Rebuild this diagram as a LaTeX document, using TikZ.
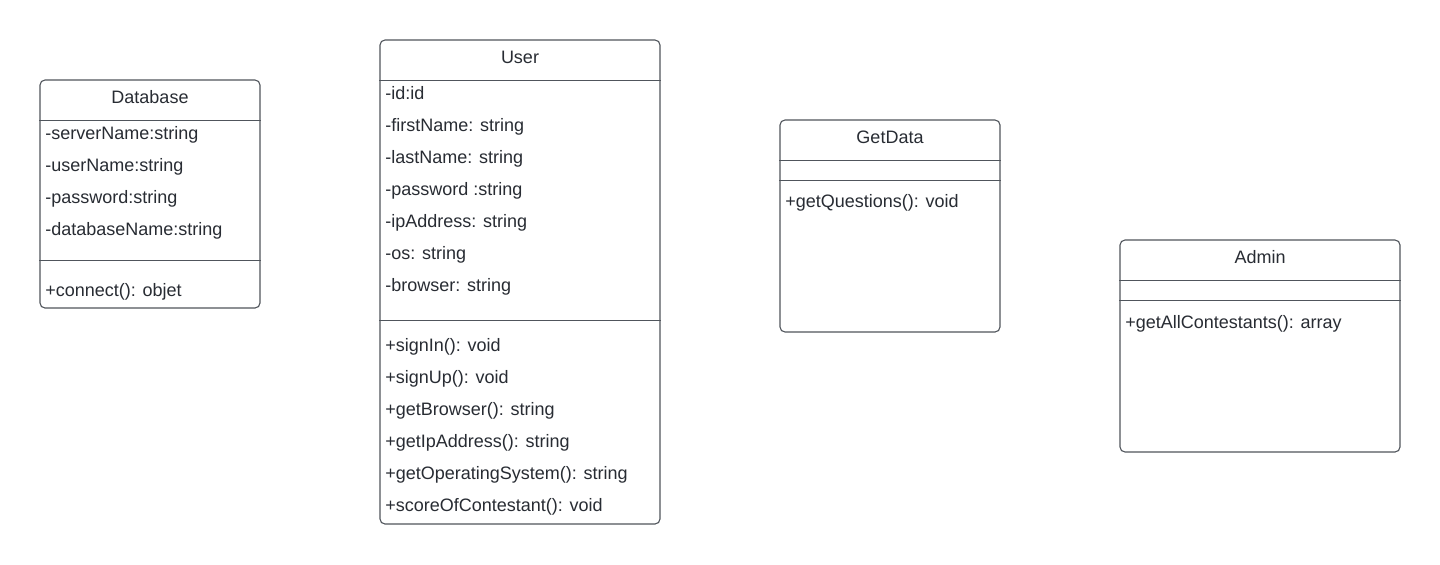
\documentclass[tikz,border=0pt]{standalone}
\usepackage{fontspec}
\setmainfont{Liberation Sans}
\usepackage{tikz}
\definecolor{boxline}{HTML}{50555C}
\definecolor{boxtext}{HTML}{282C33}
\tikzset{%
    classbox/.style={draw=boxline,line width=0.55pt,rounded corners=2.5pt,fill=white,inner sep=0pt}
}

\begin{document}
\begin{tikzpicture}[x=0.5pt,y=-0.5pt,
        member/.style={anchor=base west,inner sep=0pt,text=boxtext,font=\fontsize{9}{10}\selectfont},
        title/.style={anchor=base,inner sep=0pt,text=boxtext,font=\fontsize{9}{10}\selectfont},
        sep/.style={draw=boxline,line width=0.5pt}
        ]
        \useasboundingbox[fill=white] (0,0) rectangle (1440,564);

        \node[classbox, minimum width=110pt, minimum height=114pt] (db) at (150,194){};
        \node[classbox, minimum width=140pt, minimum height=242pt] (user) at (520,282){};
        \node[classbox, minimum width=110pt, minimum height=106pt] (gd) at (890,226){};
        \node[classbox, minimum width=140pt, minimum height=106pt] (admin) at (1260,346){};

        \draw[sep] (db.west |- 0,120) -- (db.east |- 0,120);
        \draw[sep] (db.west |- 0,260) -- (db.east |- 0,260);
        \draw[sep] (user.west |- 0,80) -- (user.east |- 0,80);
        \draw[sep] (user.west |- 0,320) -- (user.east |- 0,320);
        \draw[sep] (gd.west |- 0,160) -- (gd.east |- 0,160);
        \draw[sep] (gd.west |- 0,180) -- (gd.east |- 0,180);
        \draw[sep] (admin.west |- 0,280) -- (admin.east |- 0,280);
        \draw[sep] (admin.west |- 0,300) -- (admin.east |- 0,300);

        % Database
        \node[title] (dbT) at (150,103){Database};
        \node[member] (dbA1) at (45,139){-serverName:string};
        \node[member] (dbA2) at (45,171){-userName:string};
        \node[member] (dbA3) at (45,203){-password:string};
        \node[member] (dbA4) at (45,235){-databaseName:string};
        \node[member] (dbM1) at (45,296){+connect(): objet};

        % User
        \node[title] (userT) at (520,63){User};
        \node[member] (userA1) at (385,99){-id:id};
        \node[member] (userA2) at (385,131){-firstName: string};
        \node[member] (userA3) at (385,163){-lastName: string};
        \node[member] (userA4) at (385,195){-password :string};
        \node[member] (userA5) at (385,227){-ipAddress: string};
        \node[member] (userA6) at (385,259){-os: string};
        \node[member] (userA7) at (385,291){-browser: string};
        \node[member] (userM1) at (385,351){+signIn(): void};
        \node[member] (userM2) at (385,383){+signUp(): void};
        \node[member] (userM3) at (385,415){+getBrowser(): string};
        \node[member] (userM4) at (385,447){+getIpAddress(): string};
        \node[member] (userM5) at (385,479){+getOperatingSystem(): string};
        \node[member] (userM6) at (385,511){+scoreOfContestant(): void};

        % GetData
        \node[title] (gdT) at (890,143){GetData};
        \node[member] (gdM1) at (785,207){+getQuestions(): void};

        % Admin
        \node[title] (adminT) at (1260,263){Admin};
        \node[member] (adminM1) at (1125,328){+getAllContestants(): array};
    \end{tikzpicture}
\end{document}
